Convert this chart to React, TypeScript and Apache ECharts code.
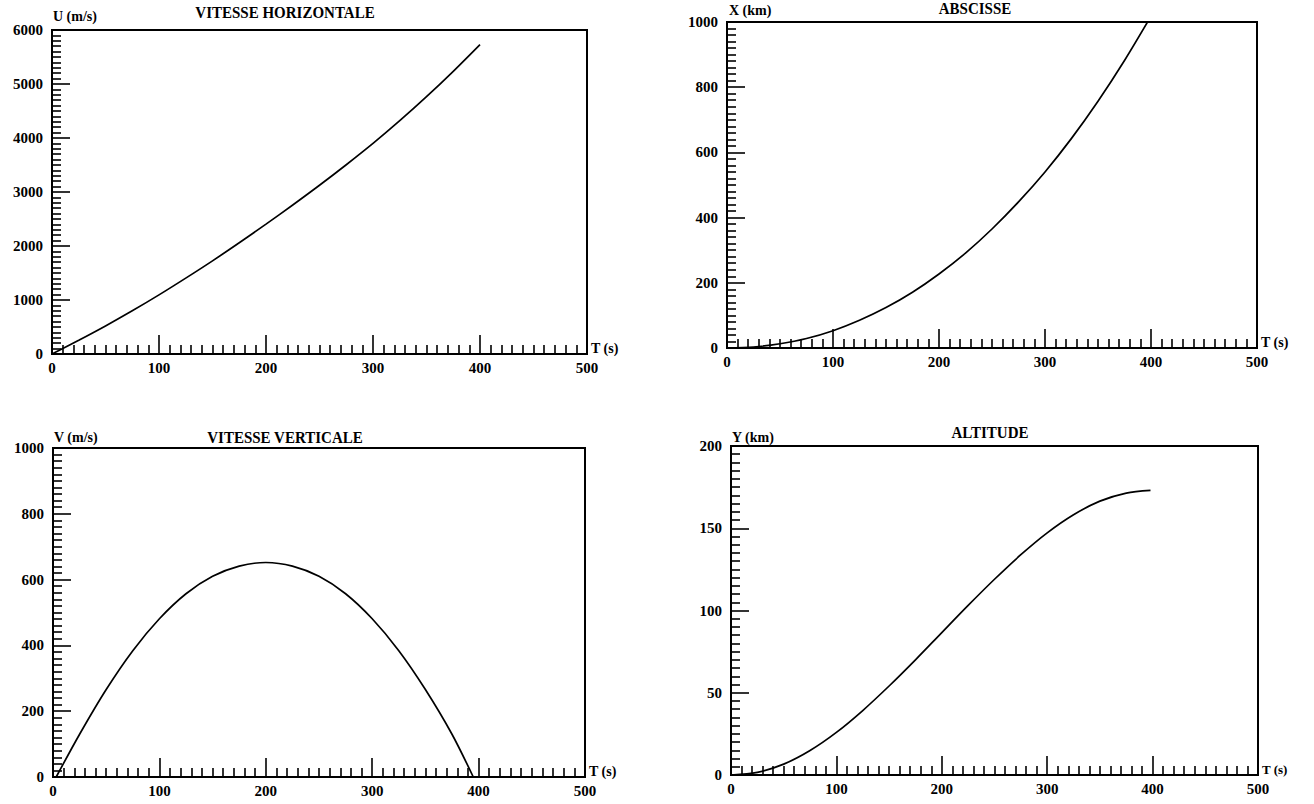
import React, { useEffect, useRef } from "react";
import * as echarts from "echarts";

// Time grid (s) and values
const T_U = [0, 25, 50, 75, 100, 125, 150, 175, 200, 225, 250, 275, 300, 325, 350, 375, 400];
const U_VALUES = [0, 255, 520, 800, 1095, 1405, 1725, 2060, 2405, 2760, 3125, 3505, 3900, 4320, 4765, 5235, 5730];

const T_X = [0, 25, 50, 75, 100, 125, 150, 175, 200, 225, 250, 275, 300, 325, 350, 375, 400];
const X_VALUES = [0, 3, 13, 29, 53, 85, 124, 171, 227, 291, 365, 448, 540, 643, 757, 882, 1018];

const T_V = [3, 25, 50, 75, 100, 125, 150, 175, 200, 225, 250, 275, 300, 325, 350, 375, 395];
const V_VALUES = [0, 130, 266, 384, 481, 557, 610, 641, 652, 641, 610, 557, 481, 384, 266, 130, 0];

const T_Y = [0, 25, 50, 75, 100, 125, 150, 175, 200, 225, 250, 275, 300, 325, 350, 375, 398];
const Y_VALUES = [0, 1.6, 6.6, 14.9, 25.9, 39.2, 54.1, 70, 86.6, 103.1, 119, 133.9, 147.2, 158.2, 166.5, 171.4, 173];

const TITLES = ["VITESSE HORIZONTALE", "ABSCISSE", "VITESSE VERTICALE", "ALTITUDE"];
const Y_NAMES = ["U (m/s)", "X (km)", "V (m/s)", "Y (km)"];
const X_NAME = "T (s)";
const Y_MAX = [6000, 1000, 1000, 200];
const Y_INTERVAL = [1000, 200, 200, 50];

const FONT = "'Liberation Serif', 'Times New Roman', serif";

const pairs = (t: number[], v: number[]) => t.map((x, i) => [x, v[i]]);

export default function App() {
  const ref = useRef<HTMLDivElement>(null);
  useEffect(() => {
    if (!ref.current) return;
    const chart = echarts.init(ref.current, undefined, { renderer: "svg" });
    const grids = [
      { left: 52, top: 30, width: 535, height: 324 },
      { left: 727, top: 22, width: 530, height: 326 },
      { left: 53, top: 448, width: 532, height: 329 },
      { left: 731, top: 446, width: 527, height: 329 },
    ];
    const titlePos = [
      { x: 285, y: 12 },
      { x: 975, y: 8 },
      { x: 285, y: 437 },
      { x: 990, y: 432 },
    ];
    const namePos = [
      { x: 53, y: 16 },
      { x: 729, y: 10 },
      { x: 54, y: 437 },
      { x: 732, y: 437 },
    ];
    const data = [
      pairs(T_U, U_VALUES),
      pairs(T_X, X_VALUES),
      pairs(T_V, V_VALUES),
      pairs(T_Y, Y_VALUES),
    ];
    const labelStyle = {
      color: "#000",
      fontFamily: FONT,
      fontWeight: "bold" as const,
      fontSize: 15,
    };
    const tickStyle = { color: "#000", width: 1.6 };
    const option: any = {
      animation: false,
      backgroundColor: "#fff",
      grid: grids.map((g) => ({
        ...g,
        show: true,
        borderColor: "#000",
        borderWidth: 2,
        backgroundColor: "transparent",
      })),
      xAxis: grids.map((_, i) => ({
        type: "value",
        gridIndex: i,
        min: 0,
        max: 500,
        interval: 100,
        name: X_NAME,
        nameLocation: "end",
        nameGap: 4,
        nameTextStyle: {
          color: "#000",
          fontFamily: FONT,
          fontWeight: "bold",
          fontSize: i === 3 ? 13 : 14,
          verticalAlign: "bottom",
          padding: [0, 0, -1, 0],
        },
        axisLine: { show: true, lineStyle: { color: "#000", width: 2 } },
        axisTick: { show: true, inside: true, length: 19, lineStyle: tickStyle },
        minorTick: { show: true, splitNumber: 10, length: 9, lineStyle: tickStyle },
        axisLabel: {
          ...labelStyle,
          margin: 6,
          showMinLabel: true,
          showMaxLabel: true,
          formatter: (v: number) => String(v),
        },
        splitLine: { show: false },
        minorSplitLine: { show: false },
      })),
      yAxis: grids.map((_, i) => ({
        type: "value",
        gridIndex: i,
        min: 0,
        max: Y_MAX[i],
        interval: Y_INTERVAL[i],
        axisLine: { show: true, lineStyle: { color: "#000", width: 2 } },
        axisTick: { show: true, inside: true, length: 18, lineStyle: tickStyle },
        minorTick: { show: true, splitNumber: 10, length: 9, lineStyle: tickStyle },
        axisLabel: {
          ...labelStyle,
          margin: 9,
          showMinLabel: true,
          showMaxLabel: true,
          formatter: (v: number) => String(v),
        },
        splitLine: { show: false },
        minorSplitLine: { show: false },
      })),
      series: data.map((d, i) => ({
        type: "line",
        xAxisIndex: i,
        yAxisIndex: i,
        data: d,
        smooth: 0.3,
        showSymbol: false,
        symbol: "none",
        clip: true,
        lineStyle: { color: "#000", width: 1.7 },
      })),
      graphic: [
        ...TITLES.map((t, i) => ({
          type: "text",
          x: titlePos[i].x,
          y: titlePos[i].y,
          scaleY: 1.15,
          style: {
            text: t,
            fill: "#000",
            font: `bold 15px ${FONT}`,
            textAlign: "center",
            textVerticalAlign: "middle",
          },
        })),
        ...Y_NAMES.map((t, i) => ({
          type: "text",
          x: namePos[i].x,
          y: namePos[i].y,
          style: {
            text: t,
            fill: "#000",
            font: `bold 14px ${FONT}`,
            textAlign: "left",
            textVerticalAlign: "middle",
          },
        })),
      ],
    };
    chart.setOption(option);
    return () => chart.dispose();
  }, []);
  return (
    <div
      ref={ref}
      style={{ position: "absolute", left: 0, top: 0, width: 1314, height: 804, background: "#fff" }}
    />
  );
}
